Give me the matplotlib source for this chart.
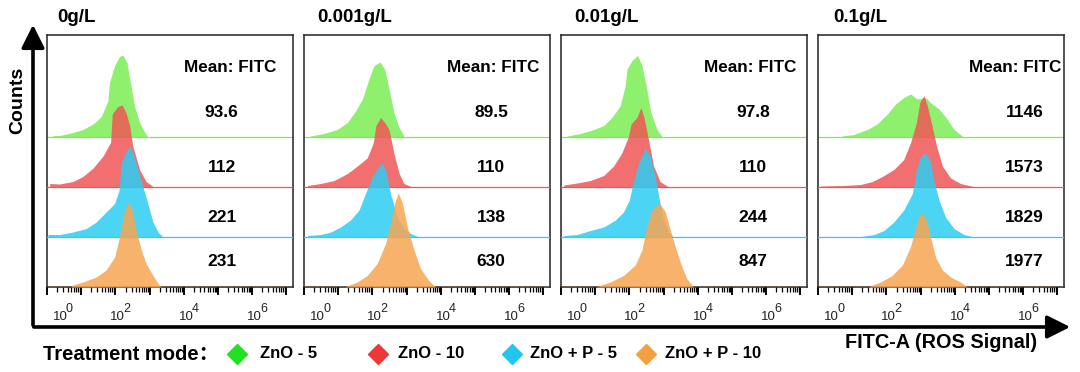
import numpy as np
import matplotlib
matplotlib.use("Agg")
import matplotlib.pyplot as plt
from matplotlib.lines import Line2D

plt.rcParams['font.family'] = ['Liberation Sans', 'DejaVu Sans']

# ---------------- data ----------------
concentrations = ["0g/L", "0.001g/L", "0.01g/L", "0.1g/L"]
treatments = ["ZnO - 5", "ZnO - 10", "ZnO + P - 5", "ZnO + P - 10"]
colors = ["#7AEE52", "#F05656", "#2CCDF4", "#F6A552"]
legend_colors = ["#22E022", "#EE3838", "#22C4F0", "#F5A040"]

mean_p1 = ["93.6", "112", "221", "231"]
mean_p2 = ["89.5", "110", "138", "630"]
mean_p3 = ["97.8", "110", "244", "847"]
mean_p4 = ["1146", "1573", "1829", "1977"]

# histogram outlines: FITC position in decades (log10) and relative counts
p1_green_dec = [0.18, 0.37, 0.76, 1.05, 1.35, 1.59, 1.78, 1.83, 1.98, 2.12, 2.22, 2.34, 2.44, 2.56, 2.71, 2.86, 2.95]
p1_green_h = [0.03, 0.03, 0.09, 0.15, 0.26, 0.41, 0.72, 1.09, 1.43, 1.61, 1.64, 1.49, 1.09, 0.62, 0.29, 0.09, 0.0]
p1_red_dec = [0.08, 0.37, 0.76, 1.05, 1.35, 1.64, 1.86, 1.91, 2.07, 2.20, 2.32, 2.42, 2.51, 2.71, 2.90, 3.10]
p1_red_h = [0.07, 0.06, 0.11, 0.21, 0.38, 0.62, 0.89, 1.46, 1.61, 1.64, 1.47, 1.22, 0.82, 0.35, 0.11, 0.01]
p1_blue_dec = [0.03, 0.37, 0.76, 1.15, 1.44, 1.73, 1.98, 2.11, 2.17, 2.32, 2.44, 2.61, 2.81, 2.95, 3.10, 3.25, 3.39]
p1_blue_h = [0.05, 0.05, 0.10, 0.17, 0.30, 0.50, 0.67, 0.94, 1.48, 1.72, 1.81, 1.48, 1.00, 0.67, 0.30, 0.10, 0.0]
p1_orange_dec = [0.71, 1.05, 1.44, 1.73, 1.98, 2.12, 2.27, 2.37, 2.47, 2.61, 2.76, 2.90, 3.10, 3.25, 3.34]
p1_orange_h = [0.03, 0.10, 0.20, 0.34, 0.60, 1.00, 1.54, 1.68, 1.61, 1.14, 0.74, 0.47, 0.23, 0.07, 0.0]

p2_green_dec = [0.19, 0.58, 0.97, 1.27, 1.51, 1.71, 1.90, 2.05, 2.22, 2.36, 2.49, 2.63, 2.78, 2.92]
p2_green_h = [0.02, 0.07, 0.15, 0.29, 0.52, 0.76, 1.16, 1.43, 1.50, 1.36, 0.96, 0.49, 0.19, 0.03]
p2_red_dec = [0.10, 0.49, 0.88, 1.27, 1.56, 1.85, 2.03, 2.10, 2.24, 2.36, 2.49, 2.63, 2.78, 2.92, 3.17]
p2_red_h = [0.03, 0.07, 0.13, 0.27, 0.42, 0.58, 0.89, 1.22, 1.39, 1.29, 1.15, 0.68, 0.28, 0.07, 0.0]
p2_blue_dec = [0.10, 0.49, 0.78, 1.07, 1.36, 1.61, 1.80, 2.00, 2.19, 2.29, 2.39, 2.53, 2.73, 2.92, 3.12, 3.36]
p2_blue_h = [0.03, 0.05, 0.10, 0.20, 0.34, 0.54, 0.87, 1.21, 1.41, 1.48, 1.34, 0.87, 0.40, 0.17, 0.07, 0.0]
p2_orange_dec = [1.22, 1.56, 1.85, 2.14, 2.39, 2.53, 2.68, 2.76, 2.88, 3.02, 3.22, 3.41, 3.65, 3.85]
p2_orange_h = [0.01, 0.10, 0.23, 0.47, 0.87, 1.28, 1.74, 1.88, 1.68, 1.21, 0.74, 0.37, 0.13, 0.0]

p3_green_dec = [0.18, 0.57, 0.96, 1.25, 1.49, 1.73, 1.88, 1.93, 2.08, 2.24, 2.37, 2.50, 2.63, 2.81, 2.95]
p3_green_h = [0.02, 0.07, 0.15, 0.23, 0.39, 0.62, 1.03, 1.36, 1.53, 1.63, 1.43, 1.00, 0.49, 0.15, 0.02]
p3_red_dec = [0.08, 0.47, 0.86, 1.25, 1.54, 1.78, 1.98, 2.05, 2.22, 2.34, 2.44, 2.56, 2.71, 2.90, 3.15]
p3_red_h = [0.04, 0.08, 0.13, 0.23, 0.42, 0.68, 1.02, 1.26, 1.39, 1.59, 1.36, 0.95, 0.42, 0.11, 0.0]
p3_blue_dec = [0.08, 0.47, 0.86, 1.25, 1.59, 1.83, 2.00, 2.08, 2.27, 2.47, 2.61, 2.76, 2.88, 3.00, 3.15, 3.29]
p3_blue_h = [0.03, 0.05, 0.13, 0.20, 0.34, 0.50, 0.74, 1.00, 1.48, 1.78, 1.61, 1.21, 0.74, 0.34, 0.10, 0.0]
p3_orange_dec = [1.05, 1.44, 1.83, 2.17, 2.37, 2.51, 2.66, 2.88, 3.05, 3.20, 3.34, 3.54, 3.68, 3.88]
p3_orange_h = [0.01, 0.10, 0.23, 0.44, 0.74, 1.21, 1.54, 1.68, 1.51, 1.14, 0.81, 0.40, 0.17, 0.0]

p4_green_dec = [0.71, 1.05, 1.44, 1.73, 2.03, 2.27, 2.51, 2.71, 2.90, 3.15, 3.29, 3.54, 3.78, 3.98, 4.22]
p4_green_h = [0.02, 0.05, 0.15, 0.26, 0.46, 0.66, 0.79, 0.86, 0.76, 0.79, 0.69, 0.56, 0.36, 0.15, 0.02]
p4_red_dec = [0.08, 0.76, 1.25, 1.59, 1.88, 2.22, 2.51, 2.71, 2.88, 2.98, 3.10, 3.20, 3.34, 3.47, 3.64, 3.88, 4.17, 4.61]
p4_red_h = [0.02, 0.03, 0.05, 0.11, 0.21, 0.35, 0.55, 0.89, 1.29, 1.69, 1.83, 1.62, 1.22, 0.82, 0.42, 0.18, 0.07, 0.0]
p4_blue_dec = [1.25, 1.64, 1.93, 2.22, 2.51, 2.76, 2.88, 3.00, 3.15, 3.29, 3.39, 3.54, 3.73, 3.98, 4.27, 4.56]
p4_blue_h = [0.01, 0.05, 0.13, 0.30, 0.54, 0.87, 1.34, 1.61, 1.68, 1.51, 1.14, 0.74, 0.40, 0.17, 0.05, 0.0]
p4_orange_dec = [1.49, 1.83, 2.17, 2.47, 2.71, 2.86, 2.95, 3.05, 3.18, 3.29, 3.44, 3.64, 3.88, 4.17, 4.37]
p4_orange_h = [0.01, 0.10, 0.23, 0.44, 0.81, 1.21, 1.41, 1.48, 1.34, 1.01, 0.60, 0.34, 0.20, 0.10, 0.0]

decade_ticks = [0, 1, 2, 3, 4, 5, 6, 7]
labelled_decades = [0, 2, 4, 6]

panels = [
    [(p1_green_dec, p1_green_h), (p1_red_dec, p1_red_h), (p1_blue_dec, p1_blue_h), (p1_orange_dec, p1_orange_h)],
    [(p2_green_dec, p2_green_h), (p2_red_dec, p2_red_h), (p2_blue_dec, p2_blue_h), (p2_orange_dec, p2_orange_h)],
    [(p3_green_dec, p3_green_h), (p3_red_dec, p3_red_h), (p3_blue_dec, p3_blue_h), (p3_orange_dec, p3_orange_h)],
    [(p4_green_dec, p4_green_h), (p4_red_dec, p4_red_h), (p4_blue_dec, p4_blue_h), (p4_orange_dec, p4_orange_h)],
]
means = [mean_p1, mean_p2, mean_p3, mean_p4]

# ---------------- layout ----------------
W, H = 1080, 372
fig = plt.figure(figsize=(W / 100, H / 100), dpi=100)

def fx(px):
    return px / W

def fy(py):
    return 1 - py / H

panel_left_px = [47, 304, 561, 818]
panel_w_px = 246
panel_top_px, panel_bot_px = 35, 287
row_offsets = [3, 2, 1, 0]
value_dy = [0.49, 0.40, 0.38, 0.50]
mean_label_x = [0.745, 0.77, 0.77, 0.80]
value_x = [0.71, 0.76, 0.78, 0.84]
title_x = [0.04, 0.055, 0.055, 0.06]

for i, (left, series, vals) in enumerate(zip(panel_left_px, panels, means)):
    ax = fig.add_axes([fx(left), fy(panel_bot_px), panel_w_px / W, (panel_bot_px - panel_top_px) / H])
    ax.set_xscale('log')
    ax.set_xlim(1, 10 ** 7.2)
    ytop = (panel_bot_px - panel_top_px) / 50
    ax.set_ylim(0, ytop)
    for j, ((dec, h), off) in enumerate(zip(series, row_offsets)):
        x = 10 ** np.asarray(dec)
        y = off + np.asarray(h)
        z = 2 + j
        ax.fill_between(x, off, y, color=colors[j], alpha=0.85, lw=0, zorder=z)
        ax.axhline(off, color=colors[j], lw=0.9, zorder=z + 0.1)
        ax.text(value_x[i], (off + value_dy[j]) / ytop, vals[j], transform=ax.transAxes,
                ha='center', va='center', fontsize=12.5, fontweight='bold', zorder=10)
    ax.text(mean_label_x[i], 4.4 / ytop, "Mean: FITC", transform=ax.transAxes,
            ha='center', va='center', fontsize=12.3, fontweight='bold', zorder=10)
    ax.text(title_x[i], 1.068, concentrations[i], transform=ax.transAxes,
            ha='left', va='center', fontsize=13.5, fontweight='bold')
    ax.set_yticks([])
    ax.set_xticks([10.0 ** d for d in decade_ticks])
    ax.set_xticklabels([])
    ax.xaxis.set_minor_locator(matplotlib.ticker.LogLocator(base=10, subs=np.arange(2, 10), numticks=100))
    ax.xaxis.set_minor_formatter(matplotlib.ticker.NullFormatter())
    ax.tick_params(axis='x', which='major', direction='out', length=6, width=1.4, colors='black')
    ax.tick_params(axis='x', which='minor', direction='out', length=3.5, width=0.9)
    for d in labelled_decades:
        extra = 11 if d == 0 else 0
        ax.annotate("10", xy=(10.0 ** d, 0), xycoords=('data', 'axes fraction'),
                    xytext=(2.5 + extra, -30.5), textcoords='offset pixels',
                    ha='center', va='center', fontsize=9.5, color='#222222', annotation_clip=False)
        ax.annotate(str(d), xy=(10.0 ** d, 0), xycoords=('data', 'axes fraction'),
                    xytext=(11.5 + extra, -22), textcoords='offset pixels',
                    ha='center', va='center', fontsize=9, color='#222222', annotation_clip=False)
    for s in ax.spines.values():
        s.set_linewidth(1.1)
        s.set_color('#222222')

# axis arrows
fig.add_artist(matplotlib.patches.FancyArrowPatch(
    (fx(33), fy(328)), (fx(33), fy(22)), transform=fig.transFigure,
    arrowstyle='-|>,head_length=0.7,head_width=0.35', mutation_scale=20, lw=2.6, color='black'))
fig.add_artist(matplotlib.patches.FancyArrowPatch(
    (fx(31), fy(327)), (fx(1073), fy(327)), transform=fig.transFigure,
    arrowstyle='-|>,head_length=0.7,head_width=0.35', mutation_scale=20, lw=2.6, color='black'))

fig.text(fx(18), fy(100), "Counts", rotation=90, ha='center', va='center', fontsize=14, fontweight='bold')
fig.text(fx(941), fy(342), "FITC-A (ROS Signal)", ha='center', va='center', fontsize=14.3, fontweight='bold')

# legend
fig.text(fx(43), fy(354), "Treatment mode\uff1a", ha='left', va='center', fontsize=14.5, fontweight='bold',
         family=['Liberation Sans', 'Noto Sans CJK SC'])
marker_px = [237, 378, 512, 646]
label_px = [260, 398, 530, 665]
for mx, lx, c, t in zip(marker_px, label_px, legend_colors, treatments):
    fig.add_artist(Line2D([fx(mx)], [fy(354)], marker='D', markersize=10.5, color=c, lw=0,
                          transform=fig.transFigure))
    fig.text(fx(lx), fy(354), t, ha='left', va='center', fontsize=12, fontweight='bold')

fig.savefig("out.png", dpi=100)
